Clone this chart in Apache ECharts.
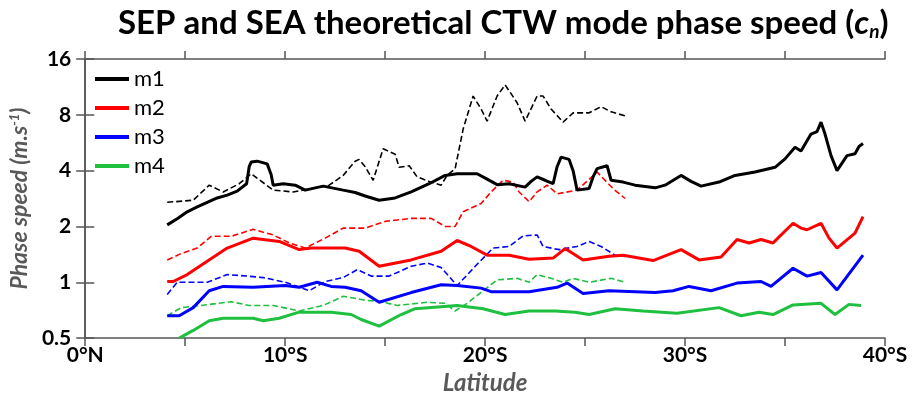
<!DOCTYPE html>
<html><head><meta charset="utf-8">
<script src="https://cdn.jsdelivr.net/npm/echarts@6/dist/echarts.min.js"></script>
<style>html,body{margin:0;padding:0;background:#fff}#c{width:915px;height:400px}</style>
</head><body><div id="c"></div>
<script>
// Latitude (°S), phase speed (m/s)
const m1Solid = [[4.1,2.04],[4.6,2.2],[5.1,2.4],[5.6,2.55],[6.1,2.7],[6.6,2.85],[7.1,2.95],[7.6,3.1],[8.07,3.4],[8.2,4.2],[8.3,4.45],[8.6,4.5],[9.1,4.35],[9.3,3.8],[9.4,3.34],[9.9,3.4],[10.5,3.34],[11.0,3.14],[11.9,3.3],[12.9,3.14],[13.5,3.05],[14.0,2.92],[14.7,2.77],[15.5,2.85],[16.3,3.07],[17.2,3.4],[18.0,3.77],[18.6,3.85],[19.6,3.85],[20.1,3.6],[20.6,3.36],[21.2,3.4],[22.0,3.26],[22.3,3.5],[22.6,3.7],[23.0,3.55],[23.4,3.4],[23.6,4.2],[23.8,4.73],[24.2,4.6],[24.4,4.0],[24.6,3.14],[25.2,3.2],[25.4,3.7],[25.6,4.1],[26.1,4.25],[26.3,3.55],[26.9,3.47],[27.5,3.34],[28.5,3.23],[29.0,3.34],[29.8,3.77],[30.3,3.5],[30.8,3.3],[31.7,3.47],[32.5,3.77],[33.5,3.93],[34.5,4.17],[35.0,4.63],[35.5,5.35],[35.8,5.1],[36.3,6.3],[36.6,6.5],[36.8,7.3],[37.0,6.3],[37.3,4.82],[37.6,4.0],[38.1,4.82],[38.5,4.93],[38.7,5.4],[38.9,5.6]];
const m1Dashed = [[4.1,2.7],[5.4,2.77],[6.2,3.34],[6.9,3.07],[7.7,3.4],[8.3,3.85],[9.4,3.14],[10.4,3.07],[11.3,3.2],[12.2,3.34],[12.9,3.77],[13.5,4.5],[13.7,4.6],[14.0,4.2],[14.4,3.55],[14.9,5.25],[15.5,4.9],[15.7,4.17],[16.2,4.25],[16.6,3.7],[17.2,3.5],[17.8,3.34],[18.1,3.77],[18.5,4.1],[18.9,6.7],[19.4,10.1],[19.8,8.6],[20.1,7.4],[20.6,10.1],[21.0,11.6],[21.6,9.3],[22.0,7.4],[22.6,10.1],[22.9,10.1],[23.3,8.6],[23.9,7.3],[24.4,8.2],[25.2,8.2],[25.8,8.85],[26.3,8.3],[27.0,7.9]];
const m2Solid = [[4.1,1.01],[4.4,1.01],[5.1,1.1],[6.1,1.3],[7.1,1.53],[8.4,1.73],[9.7,1.66],[10.7,1.5],[11.3,1.53],[13.0,1.53],[13.7,1.47],[14.7,1.22],[16.3,1.32],[17.8,1.47],[18.6,1.68],[19.3,1.56],[20.1,1.4],[21.2,1.4],[22.2,1.33],[23.4,1.35],[24.0,1.52],[24.9,1.32],[26.2,1.38],[26.9,1.4],[28.4,1.31],[29.8,1.5],[30.7,1.32],[31.8,1.37],[32.6,1.7],[33.2,1.63],[33.8,1.7],[34.4,1.63],[35.4,2.08],[35.8,1.96],[36.1,1.92],[36.8,2.08],[37.2,1.73],[37.6,1.53],[38.5,1.84],[38.9,2.26]];
const m2Dashed = [[4.1,1.32],[4.8,1.43],[5.6,1.53],[6.3,1.77],[7.3,1.77],[8.4,1.93],[9.4,1.8],[10.2,1.63],[11.0,1.53],[12.0,1.73],[12.9,1.96],[14.0,1.96],[15.0,2.13],[16.3,2.21],[17.3,2.21],[18.0,2.0],[18.5,2.0],[18.9,2.4],[19.8,2.66],[20.3,3.07],[20.9,3.55],[21.4,3.47],[21.7,3.07],[22.2,2.72],[22.6,3.07],[23.1,3.34],[23.6,3.0],[24.6,3.14],[25.6,3.93],[26.4,3.2],[27.0,2.83]];
const m3Solid = [[4.1,0.66],[4.7,0.66],[5.4,0.73],[6.2,0.9],[6.9,0.95],[8.4,0.94],[10.0,0.96],[10.7,0.94],[11.6,1.0],[12.3,0.95],[13.0,0.94],[13.8,0.9],[14.7,0.78],[16.3,0.88],[17.8,0.97],[18.6,0.96],[19.8,0.93],[20.3,0.89],[22.2,0.89],[23.6,0.94],[24.1,0.99],[24.9,0.87],[26.2,0.9],[28.5,0.88],[29.4,0.9],[30.2,0.95],[31.3,0.9],[32.6,0.99],[33.8,1.01],[34.3,0.95],[35.4,1.19],[36.1,1.08],[36.8,1.13],[37.6,0.91],[38.9,1.4]];
const m3Dashed = [[4.1,0.86],[4.6,1.0],[5.3,1.0],[6.1,1.0],[7.1,1.1],[8.1,1.08],[8.9,1.06],[10.0,1.0],[11.2,0.9],[12.0,1.01],[12.9,1.06],[13.6,1.17],[14.3,1.08],[15.2,1.08],[16.3,1.22],[17.1,1.27],[17.8,1.2],[18.6,0.96],[19.6,1.25],[20.4,1.53],[21.2,1.56],[21.9,1.78],[22.6,1.8],[22.9,1.56],[23.7,1.5],[24.6,1.56],[25.2,1.66],[25.8,1.56],[26.5,1.4],[27.0,1.38]];
const m4Solid = [[4.7,0.5],[5.4,0.55],[6.2,0.62],[6.9,0.64],[8.4,0.64],[8.9,0.62],[9.7,0.64],[10.7,0.69],[12.3,0.69],[13.3,0.67],[13.8,0.63],[14.7,0.58],[15.8,0.67],[16.5,0.72],[18.6,0.75],[19.9,0.72],[21.0,0.67],[22.2,0.7],[23.5,0.7],[24.5,0.69],[25.2,0.67],[26.5,0.72],[27.9,0.7],[29.6,0.68],[31.7,0.73],[32.8,0.66],[33.7,0.69],[34.4,0.67],[35.4,0.755],[36.8,0.77],[37.5,0.67],[38.2,0.76],[38.8,0.75]];
const m4Dashed = [[4.1,0.66],[4.8,0.73],[5.8,0.75],[7.3,0.785],[8.2,0.75],[9.4,0.75],[10.7,0.7],[11.9,0.75],[12.9,0.84],[13.5,0.82],[14.0,0.8],[14.7,0.79],[15.6,0.75],[17.1,0.78],[18.0,0.77],[18.5,0.7],[19.1,0.77],[19.9,0.9],[20.6,1.03],[21.6,1.05],[22.2,1.0],[22.6,1.1],[23.3,1.05],[23.9,1.0],[24.4,1.05],[25.2,1.0],[26.3,1.05],[27.0,1.0]];
const modeNames = ['m1','m2','m3','m4'];
const modeColors = ['#000000','#ff0000','#0000ff','#1fbf3f'];
const xTickLabels = {0:'0°N',10:'10°S',20:'20°S',30:'30°S',40:'40°S'};
const yTicks = [0.5,1,2,4,8,16];

const FONT = 'Lato';
const solids = [m1Solid,m2Solid,m3Solid,m4Solid];
const dashed = [m1Dashed,m2Dashed,m3Dashed,m4Dashed];
const series = [];
dashed.forEach((d,i)=>series.push({name:modeNames[i]+' SEA',type:'line',data:d,showSymbol:false,silent:true,
  lineStyle:{color:modeColors[i],width:1.6,type:[6,3]},itemStyle:{color:modeColors[i]},z:2}));
solids.forEach((d,i)=>series.push({name:modeNames[i],type:'line',data:d,showSymbol:false,silent:true,
  lineStyle:{color:modeColors[i],width:3},itemStyle:{color:modeColors[i]},z:3}));

const axisLineStyle = {color:'#555',width:1.5};
const chart = echarts.init(document.getElementById('c'),null,{renderer:'canvas'});
chart.setOption({
  animation:false,
  backgroundColor:'#fff',
  title:{left:113,top:1,text:'{a|SEP and SEA theoretical CTW mode phase speed (}{i|c}{s|n}{a|)}',
    textStyle:{rich:{
      a:{fontFamily:FONT,fontWeight:'bold',fontSize:33,color:'#000'},
      i:{fontFamily:FONT,fontWeight:'bold',fontStyle:'italic',fontSize:33,color:'#000'},
      s:{fontFamily:FONT,fontWeight:'bold',fontStyle:'italic',fontSize:19,color:'#000',padding:[16,0,0,0]}
    }}},
  legend:{left:90,top:63,orient:'vertical',itemGap:7,itemWidth:34,itemHeight:4,icon:'rect',
    data:modeNames,textStyle:{fontFamily:FONT,fontSize:22,color:'#000'},selectedMode:false},
  grid:{left:77,right:30,top:59,bottom:59,containLabel:false},
  xAxis:[{type:'value',min:0,max:40,interval:5,position:'bottom',
    axisLine:{lineStyle:axisLineStyle},axisTick:{length:8,lineStyle:axisLineStyle},splitLine:{show:false},
    axisLabel:{margin:7,fontFamily:FONT,fontWeight:'bold',fontSize:21,color:'#000',
      formatter:v=>xTickLabels[v]!==undefined?xTickLabels[v]:''},
    name:'Latitude',nameLocation:'middle',nameGap:32,
    nameTextStyle:{fontFamily:FONT,fontWeight:'bold',fontStyle:'italic',fontSize:24,color:'#595959'}},
   {type:'value',min:0,max:40,interval:5,position:'top',
    axisLine:{lineStyle:axisLineStyle},axisTick:{length:8,lineStyle:axisLineStyle},splitLine:{show:false},axisLabel:{show:false}}],
  yAxis:[{type:'log',logBase:2,min:0.5,max:16,position:'left',
    axisLine:{show:true,lineStyle:axisLineStyle},axisTick:{show:true,length:9,lineStyle:axisLineStyle},splitLine:{show:false},
    axisLabel:{margin:14,fontFamily:FONT,fontWeight:'bold',fontSize:21,color:'#000',
      formatter:v=>{const t=yTicks.find(k=>Math.abs(k-v)<1e-6);return t!==undefined?String(t):'';}},
    name:'{a|Phase speed (m.s}{s|-1}{a|)}',nameLocation:'middle',nameGap:40,nameRotate:90,
    nameTextStyle:{rich:{
      a:{fontFamily:FONT,fontWeight:'bold',fontStyle:'italic',fontSize:23,color:'#595959'},
      s:{fontFamily:FONT,fontWeight:'bold',fontStyle:'italic',fontSize:13,color:'#595959',verticalAlign:'top',padding:[0,0,10,0]}
    }}},
   {type:'log',logBase:2,min:0.5,max:16,position:'right',
    axisLine:{show:true,lineStyle:axisLineStyle},axisTick:{show:true,length:9,lineStyle:axisLineStyle},splitLine:{show:false},axisLabel:{show:false}}],
  series:series
});
</script></body></html>
